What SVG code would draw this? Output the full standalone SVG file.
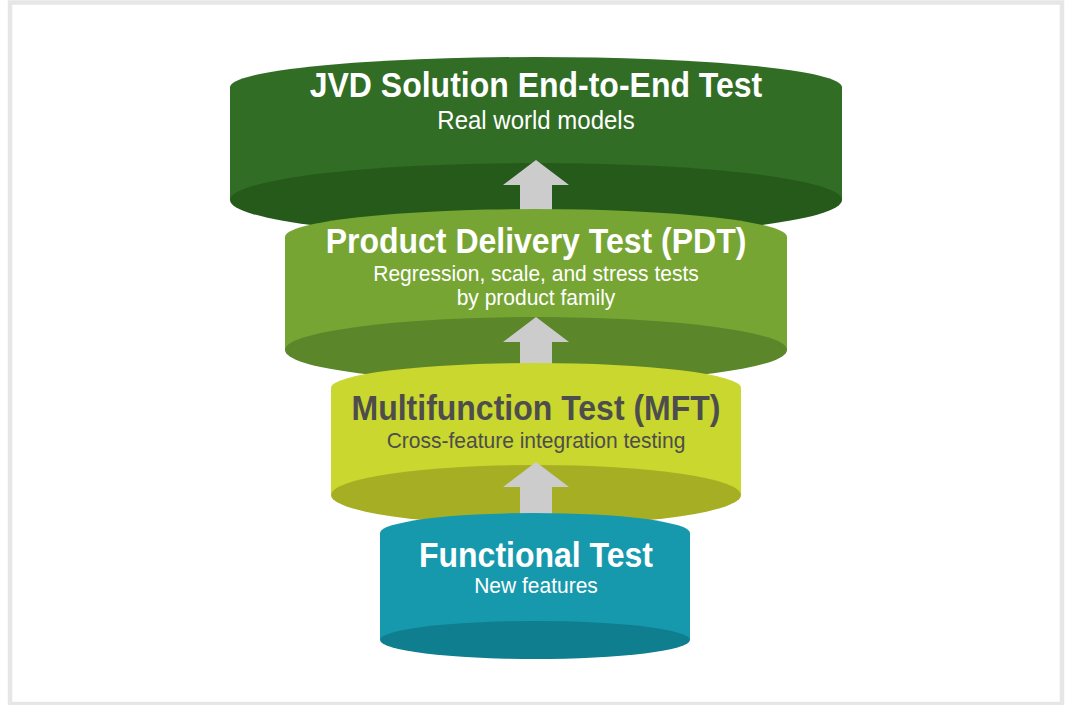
<svg xmlns="http://www.w3.org/2000/svg" width="1067" height="705" viewBox="0 0 1067 705">
<style>
  .t { font-family: "Liberation Sans", Arial, sans-serif; font-weight: bold; font-size: 32px; text-anchor: middle; }
  .s { font-family: "Liberation Sans", Arial, sans-serif; font-size: 21px; text-anchor: middle; }
  .w { fill: #ffffff; }
  .g { fill: #4d4d4d; }
  .arrow { fill: #cccccc; }
</style>
<rect x="0" y="0" width="1067" height="705" fill="#ffffff"/>
<rect x="10" y="2.5" width="1052" height="701.5" fill="#ffffff" stroke="#e6e6e6" stroke-width="4.5"/>

<g id="jvd">
  <ellipse cx="536" cy="87" rx="306" ry="30" fill="#316d24"/>
  <rect x="230" y="87" width="612" height="113" fill="#316d24"/>
  <ellipse cx="536" cy="200" rx="306" ry="37" fill="#265a1b"/>
  <text class="t w" transform="translate(536,97) scale(1,1.07)">JVD Solution End-to-End Test</text>
  <text class="s w" transform="translate(536,129) scale(1,1.07)" style="font-size:24px">Real world models</text>
</g>

<g id="connectors">
  <path id="arrow1" class="arrow" d="M536,160 L569,185 L552,185 L552,225 L520,225 L520,185 L503,185 Z"/>
</g>

<g id="pdt">
  <ellipse cx="536" cy="237" rx="251" ry="28" fill="#77a534"/>
  <rect x="285" y="237" width="502" height="113" fill="#77a534"/>
  <ellipse cx="536" cy="350" rx="251" ry="33" fill="#5c862a"/>
  <text class="t w" transform="translate(536,253) scale(1,1.07)">Product Delivery Test (PDT)</text>
  <text class="s w" transform="translate(536,281) scale(1,1.07)">Regression, scale, and stress tests</text>
  <text class="s w" transform="translate(536,305) scale(1,1.07)">by product family</text>
</g>

<g id="connectors2">
  <path id="arrow2" class="arrow" d="M536,317 L569,342 L552,342 L552,380 L520,380 L520,342 L503,342 Z"/>
</g>

<g id="mft">
  <ellipse cx="536" cy="388" rx="205" ry="25" fill="#c9d72e"/>
  <rect x="331" y="388" width="410" height="107" fill="#c9d72e"/>
  <ellipse cx="536" cy="495" rx="205" ry="30" fill="#a6ae24"/>
  <text class="t g" transform="translate(536,420) scale(1,1.07)">Multifunction Test (MFT)</text>
  <text class="s g" transform="translate(536,448) scale(1,1.07)">Cross-feature integration testing</text>
</g>

<g id="connectors3">
  <path id="arrow3" class="arrow" d="M536,462 L569,487 L552,487 L552,525 L520,525 L520,487 L503,487 Z"/>
</g>

<g id="functional">
  <ellipse cx="535" cy="533" rx="155" ry="20" fill="#1799ad"/>
  <rect x="380" y="533" width="310" height="107" fill="#1799ad"/>
  <ellipse cx="535" cy="640" rx="155" ry="19" fill="#0f7e8e"/>
  <text class="t w" transform="translate(536,567) scale(1,1.07)">Functional Test</text>
  <text class="s w" transform="translate(536,593) scale(1,1.07)">New features</text>
</g>
</svg>
